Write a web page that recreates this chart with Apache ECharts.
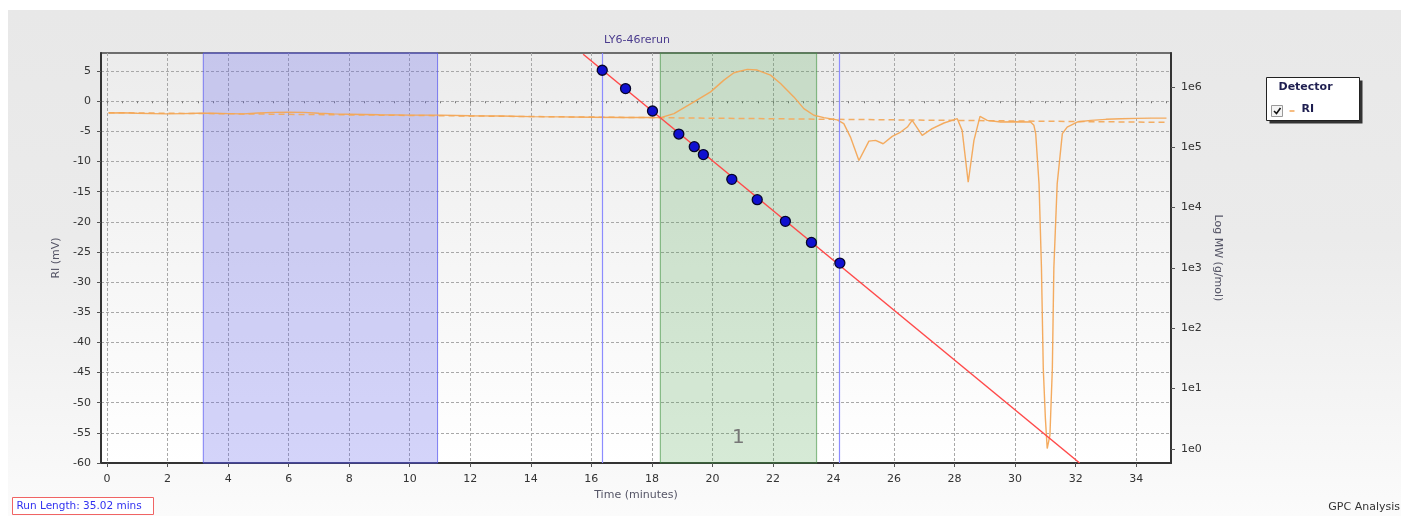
<!DOCTYPE html>
<html>
<head>
<meta charset="utf-8">
<title>LY6-46rerun</title>
<script src="https://cdn.jsdelivr.net/npm/echarts@6/dist/echarts.min.js"></script>
<style>
  html, body { margin: 0; padding: 0; background: #ffffff; }
  #panel { position: absolute; left: 8px; top: 10px; width: 1393px; height: 506px;
           background: linear-gradient(#e8e8e8 0%, #ebebeb 45%, #fbfbfb 100%); }
  #chart { position: absolute; left: 0; top: 0; width: 1401px; height: 516px; }
</style>
</head>
<body>
<div id="panel"></div>
<div id="chart"></div>
<script>
// Axis ticks
const timeTicks = [0, 2, 4, 6, 8, 10, 12, 14, 16, 18, 20, 22, 24, 26, 28, 30, 32, 34];
const timeMinorTicks = Array.from({ length: 71 }, (_, i) => i * 0.5);
const riTicks = [-60, -55, -50, -45, -40, -35, -30, -25, -20, -15, -10, -5, 0, 5];
const logMwTicks = [0, 1, 2, 3, 4, 5, 6];

// RI detector trace (time in minutes, signal in mV)
const riTime = [
  0.05, 0.5, 1, 1.5, 2, 2.5, 3, 3.5, 4, 4.5, 5, 5.5, 6, 6.5, 7, 7.5, 8, 9, 10, 11, 12, 13, 14, 15, 16, 17, 17.8,
  18.29, 18.73, 19.39, 19.94, 20.38, 20.71, 21.15, 21.48, 21.92, 22.25, 22.69, 23.02, 23.35, 23.68,
  24.12, 24.34, 24.56, 24.84, 25.17, 25.39, 25.64, 25.94, 26.22, 26.44, 26.6, 26.93, 27.26, 27.65,
  28.09, 28.25, 28.45, 28.64, 28.84, 29.08, 29.52, 30.0, 30.51, 30.62, 30.68, 30.79, 30.87, 30.93,
  31.0, 31.06, 31.15, 31.23, 31.28, 31.39, 31.56, 31.72, 32.05, 32.5, 33.0, 33.5, 34.0, 34.5, 35.0
];
const riSignal = [
  -1.95, -1.9, -2.0, -2.05, -2.1, -2.05, -2.0, -2.0, -2.05, -2.1, -1.95, -1.85, -1.8, -1.85, -2.0, -2.1, -2.15, -2.25, -2.3, -2.3, -2.4, -2.45, -2.55, -2.6, -2.65, -2.7, -2.7,
  -2.72, -2.05, -0.12, 1.55, 3.5, 4.72, 5.28, 5.17, 4.33, 2.95, 0.72, -1.22, -2.33, -2.72,
  -3.1, -3.72, -5.95, -9.83, -6.61, -6.5, -7.05, -5.83, -5.11, -4.28, -3.17, -5.67, -4.55, -3.61,
  -2.89, -4.83, -13.44, -6.5, -2.5, -3.17, -3.45, -3.4, -3.45, -4.0, -5.38, -13.7, -27.6, -44.3,
  -52.6, -57.6, -55.4, -44.3, -27.6, -13.7, -5.38, -4.28, -3.45, -3.17, -3.0, -2.9, -2.85, -2.8, -2.8
];

// Integration baseline (dashed)
const baselineTime = [0.05, 35.0];
const baselineSignal = [-1.9, -3.5];

// Calibration standards: retention time vs log10 MW
const calTime = [16.36, 17.13, 18.02, 18.89, 19.40, 19.70, 20.64, 21.48, 22.41, 23.27, 24.21];
const calLogMw = [6.274, 5.970, 5.599, 5.217, 5.008, 4.876, 4.466, 4.129, 3.770, 3.421, 3.078];

// Linear calibration fit, end points
const fitTime = [15.73, 32.13];
const fitLogMw = [6.539, -0.235];

// Calibration limits and regions (minutes)
const calLimits = [16.37, 24.2];
const excludedRegion = [3.18, 10.92];
const peakRegion = [18.28, 23.44];
const peakName = '1';

const zip = (a, b) => a.map((v, i) => [v, b[i]]);

const chart = echarts.init(document.getElementById('chart'), null, { renderer: 'canvas' });

const FONT = 'DejaVu Sans';
const labelColor = '#333333';
const gridLine = { show: true, lineStyle: { color: '#a8a8a8', type: [3, 2], width: 1 } };

const option = {
  backgroundColor: 'transparent',
  animation: false,
  title: {
    text: 'LY6-46rerun',
    left: 632, top: 30, textAlign: 'center',
    textStyle: { fontFamily: FONT, fontSize: 11, fontWeight: 'normal', color: '#4b3c8e' }
  },
  grid: {
    left: 101, right: 230, top: 53, bottom: 53,
    show: true,
    borderColor: '#444444', borderWidth: 1.5,
    backgroundColor: new echarts.graphic.LinearGradient(0, 0, 0, 1, [
      { offset: 0, color: '#ececec' },
      { offset: 1, color: '#ffffff' }
    ])
  },
  xAxis: [
    {
      type: 'value', min: -0.2, max: 35.15, position: 'bottom',
      name: 'Time (minutes)', nameLocation: 'middle', nameGap: 25,
      nameTextStyle: { fontFamily: FONT, fontSize: 11, color: '#555566' },
      axisLine: { show: true, onZero: false, lineStyle: { color: '#333333', width: 2 } },
      axisTick: { show: true, length: 4, customValues: timeTicks, lineStyle: { color: '#555555' } },
      axisLabel: { customValues: timeTicks, margin: 11, fontFamily: FONT, fontSize: 11, color: labelColor },
      splitLine: gridLine
    },
    {
      type: 'value', min: -0.2, max: 35.15, position: 'bottom',
      axisLine: { show: false },
      axisTick: { show: true, length: 2, customValues: timeMinorTicks, lineStyle: { color: '#777777' } },
      axisLabel: { show: false },
      splitLine: { show: false }
    }
  ],
  yAxis: [
    {
      type: 'value', min: -60, max: 8, position: 'left',
      name: 'RI (mV)', nameLocation: 'middle', nameGap: 37,
      nameTextStyle: { fontFamily: FONT, fontSize: 11, color: '#555566' },
      axisLine: { show: true, onZero: false, lineStyle: { color: '#333333', width: 2 } },
      axisTick: { show: true, length: 4, customValues: riTicks, lineStyle: { color: '#555555' } },
      axisLabel: { customValues: riTicks, margin: 10, fontFamily: FONT, fontSize: 11, color: labelColor },
      splitLine: gridLine
    },
    {
      type: 'value', min: -0.235, max: 6.56, position: 'right',
      name: 'Log MW (g/mol)', nameLocation: 'middle', nameGap: 36, nameRotate: -90,
      nameTextStyle: { fontFamily: FONT, fontSize: 11, color: '#555566' },
      axisLine: { show: true, onZero: false, lineStyle: { color: '#333333', width: 2 } },
      axisTick: { show: true, length: 4, customValues: logMwTicks, lineStyle: { color: '#555555' } },
      axisLabel: {
        customValues: logMwTicks, margin: 10, fontFamily: FONT, fontSize: 11, color: labelColor,
        formatter: v => '1e' + Math.round(v)
      },
      splitLine: { show: false }
    }
  ],
  series: [
    {
      // shaded regions and calibration limit lines
      name: 'regions', type: 'line', data: [], z: 1, silent: true,
      markArea: {
        silent: true,
        data: [
          [
            { xAxis: excludedRegion[0], itemStyle: { color: 'rgba(95,95,235,0.27)', borderColor: 'rgba(90,90,240,0.75)', borderWidth: 1 } },
            { xAxis: excludedRegion[1] }
          ],
          [
            {
              xAxis: peakRegion[0], name: peakName,
              itemStyle: { color: 'rgba(70,160,70,0.22)', borderColor: 'rgba(70,150,70,0.6)', borderWidth: 1.2 },
              label: { show: true, position: 'insideBottom', distance: 16, fontFamily: FONT, fontSize: 20, color: '#777777' }
            },
            { xAxis: peakRegion[1] }
          ]
        ]
      },
      markLine: {
        silent: true, symbol: 'none', label: { show: false },
        lineStyle: { color: '#8c8cff', width: 1.2, type: 'solid' },
        data: calLimits.map(v => ({ xAxis: v }))
      }
    },
    {
      name: 'baseline', type: 'line', data: zip(baselineTime, baselineSignal),
      symbol: 'none', z: 3,
      lineStyle: { color: '#f3ad63', width: 1.5, type: [6, 4] }
    },
    {
      name: 'RI', type: 'line', data: zip(riTime, riSignal),
      symbol: 'none', z: 4,
      lineStyle: { color: '#f3a656', width: 1.4, opacity: 0.95 }
    },
    {
      name: 'fit', type: 'line', yAxisIndex: 1, data: zip(fitTime, fitLogMw),
      symbol: 'none', z: 5, clip: true,
      lineStyle: { color: '#ff4a4a', width: 1.5 }
    },
    {
      name: 'standards', type: 'scatter', yAxisIndex: 1, data: zip(calTime, calLogMw),
      symbol: 'circle', symbolSize: 10, z: 6,
      itemStyle: { color: '#1010d0', borderColor: '#06062a', borderWidth: 1.3, opacity: 1 }
    }
  ],
  graphic: [
    // detector legend box
    {
      type: 'group', left: 1266, top: 77,
      children: [
        { type: 'rect', shape: { x: 3, y: 3, width: 93, height: 43 }, style: { fill: '#333333' } },
        { type: 'rect', shape: { x: 0, y: 0, width: 93, height: 43 }, style: { fill: '#ffffff', stroke: '#222222', lineWidth: 1 } },
        { type: 'text', x: 12, y: 4, style: { text: 'Detector', fontFamily: FONT, fontSize: 11, fontWeight: 'bold', fill: '#1e1e50' } },
        { type: 'rect', shape: { x: 5, y: 28, width: 11, height: 11 }, style: { fill: '#f4f4f4', stroke: '#9a9a9a', lineWidth: 1 } },
        { type: 'polyline', shape: { points: [[7.5, 33.5], [10, 36], [14, 30.5]] }, style: { stroke: '#111111', lineWidth: 1.6, fill: null } },
        { type: 'line', shape: { x1: 23, y1: 33.5, x2: 28, y2: 33.5 }, style: { stroke: '#f3a656', lineWidth: 1.5 } },
        { type: 'text', x: 35, y: 26, style: { text: 'RI', fontFamily: FONT, fontSize: 11, fontWeight: 'bold', fill: '#1e1e50' } }
      ]
    },
    // run length box
    {
      type: 'group', left: 12, top: 497,
      children: [
        { type: 'rect', shape: { x: 0, y: 0, width: 141, height: 17 }, style: { fill: '#ffffff', stroke: '#f06464', lineWidth: 1 } },
        { type: 'text', x: 4, y: 3, style: { text: 'Run Length: 35.02 mins', fontFamily: FONT, fontSize: 10.5, fill: '#3232f0' } }
      ]
    },
    {
      type: 'text', right: 1, top: 502,
      style: { text: 'GPC Analysis', fontFamily: FONT, fontSize: 11, fill: '#333333' }
    }
  ]
};

chart.setOption(option);
</script>
</body>
</html>
